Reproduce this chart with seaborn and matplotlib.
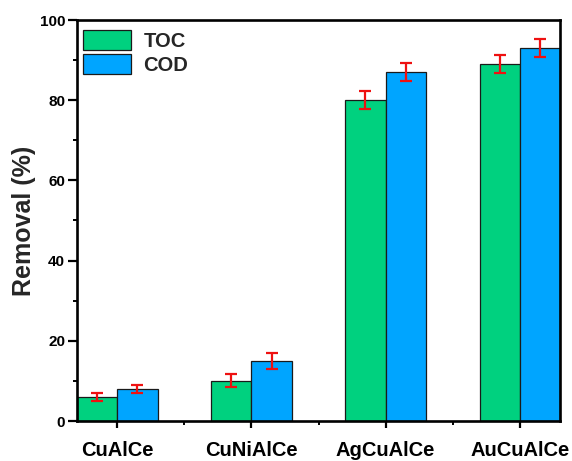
import matplotlib
matplotlib.use("Agg")
import matplotlib.pyplot as plt
import seaborn as sns
import pandas as pd
import numpy as np
from matplotlib.ticker import MultipleLocator, FixedLocator

categories = ["CuAlCe", "CuNiAlCe", "AgCuAlCe", "AuCuAlCe"]
series = ["TOC", "COD"]
toc_vals = [6, 10, 80, 89]
cod_vals = [8, 15, 87, 93]
toc_err = [1.0, 1.6, 2.2, 2.3]
cod_err = [1.0, 2.0, 2.2, 2.3]
colors = ["#00D17F", "#00A5FF"]

sns.set_theme(style="ticks")
plt.rcParams['font.family'] = ['Liberation Sans', 'DejaVu Sans']
plt.rcParams['font.weight'] = 'bold'

df = pd.DataFrame({
    "cat": categories * 2,
    "series": [series[0]] * 4 + [series[1]] * 4,
    "val": toc_vals + cod_vals,
})

fig = plt.figure(figsize=(5.72, 4.61), dpi=100)
ax = fig.add_axes([77 / 572, 1 - 421 / 461, (560 - 77) / 572, (421 - 20) / 461])

sns.barplot(data=df, x="cat", y="val", hue="series", order=categories,
            hue_order=series, palette=colors, width=0.6, gap=0,
            errorbar=None, edgecolor="#1a1a1a", linewidth=0.9, saturation=1,
            ax=ax)

errs = [toc_err, cod_err]
vals = [toc_vals, cod_vals]
for cont, e, v in zip(ax.containers, errs, vals):
    xs = [p.get_x() + p.get_width() / 2 for p in cont.patches]
    ax.errorbar(xs, v, yerr=e, fmt="none", ecolor="#EE1111", elinewidth=1.6,
                capsize=4.5, capthick=1.6, zorder=5)

ax.set_xlim(-0.3, 3.3)
ax.set_ylim(0, 100)
ax.yaxis.set_major_locator(MultipleLocator(20))
ax.yaxis.set_minor_locator(MultipleLocator(10))
ax.xaxis.set_minor_locator(FixedLocator([0.5, 1.5, 2.5]))

for s in ax.spines.values():
    s.set_linewidth(1.9)
    s.set_color("black")

ax.tick_params(axis="both", which="major", direction="out", width=1.6,
               color="black", labelcolor="black")
ax.tick_params(axis="y", which="major", length=6.5, pad=2, labelsize=11)
ax.tick_params(axis="x", which="major", length=5, pad=9.5, labelsize=14.5)
ax.tick_params(axis="both", which="minor", direction="out", length=3,
               width=1.4, color="black")
for lab in ax.get_xticklabels() + ax.get_yticklabels():
    lab.set_fontweight("bold")

ax.set_xlabel("")
ax.set_ylabel("Removal (%)", fontsize=18, fontweight="bold", labelpad=3)

leg = ax.legend(loc="upper left", frameon=False,
                prop={"weight": "bold", "size": 14.5},
                handlelength=2.4, handleheight=1.15, handletextpad=0.6,
                labelspacing=0.15, borderaxespad=0, borderpad=0,
                bbox_to_anchor=(6 / 483, 1 - 10 / 401))
for h in leg.legend_handles:
    h.set_edgecolor("#1a1a1a")
    h.set_linewidth(0.9)

fig.savefig("out.png", dpi=100)
